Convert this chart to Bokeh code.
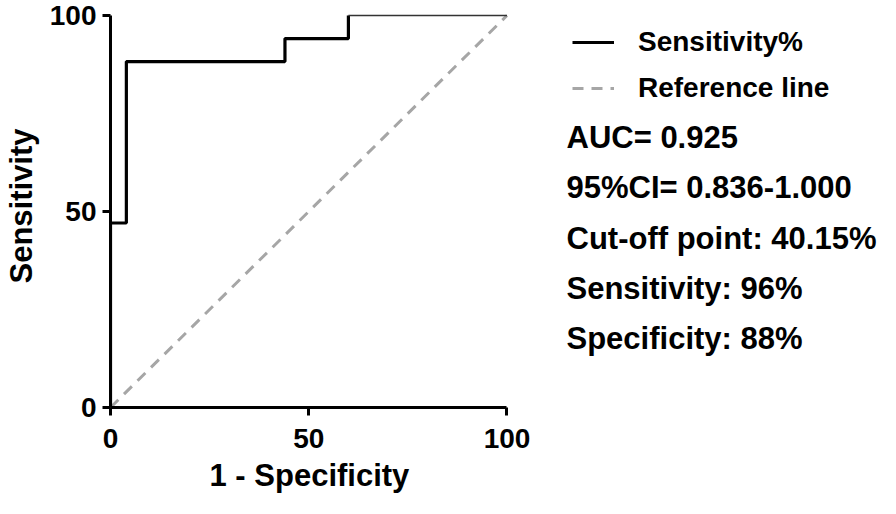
from bokeh.plotting import figure
from bokeh.models import Range1d, Legend, LegendItem, Label, FixedTicker, Title
from bokeh.embed import file_html
from bokeh.resources import INLINE

# ROC curve data (1 - specificity %, sensitivity %)
fpr = [0, 0, 4, 4, 44, 44, 60, 60, 100]
sens = [0, 47.06, 47.06, 88.24, 88.24, 94.12, 94.12, 100, 100]
ref_x = [0, 100]
ref_y = [0, 100]
ticks = [0, 50, 100]
x_title = "1 - Specificity"
y_title = "Sensitivity"
legend_labels = ["Sensitivity%", "Reference line"]
stats = ["AUC= 0.925", "95%CI= 0.836-1.000", "Cut-off point: 40.15%",
         "Sensitivity: 96%", "Specificity: 88%"]

FONT = "Liberation Sans"
W, H = 880, 498

p = figure(width=W, height=H, output_backend="svg", toolbar_location=None,
           x_range=Range1d(0, 194.2), y_range=Range1d(0, 102.8),
           min_border_left=107, min_border_right=0, min_border_top=4,
           min_border_bottom=91)
p.outline_line_color = None
p.xgrid.visible = False
p.ygrid.visible = False

r_ref = p.line(ref_x, ref_y, line_color="#a6a6a6", line_width=3, line_dash="11 8")
r_roc = p.line(fpr[:-1], sens[:-1], line_color="black", line_width=3.2)
p.line(fpr[-2:], sens[-2:], line_color="#333333", line_width=1.6)

for ax in (p.xaxis[0], p.yaxis[0]):
    ax.ticker = FixedTicker(ticks=ticks)
    ax.bounds = (0, 100)
    ax.axis_line_width = 3
    ax.axis_line_color = "black"
    ax.major_tick_line_width = 3
    ax.major_tick_line_color = "black"
    ax.major_tick_out = 8
    ax.major_tick_in = 0
    ax.minor_tick_line_color = None
    ax.major_label_text_font = FONT
    ax.major_label_text_font_size = "28px"
    ax.major_label_text_font_style = "bold"
    ax.major_label_text_color = "black"
    ax.axis_label_text_font = FONT
    ax.axis_label_text_font_size = "31px"
    ax.axis_label_text_font_style = "bold"
    ax.axis_label_text_color = "black"

p.yaxis.axis_label = y_title
p.xaxis.major_label_standoff = 13
p.yaxis.major_label_standoff = 6
p.yaxis.axis_label_standoff = 8

p.add_layout(Title(text=x_title, align="left", offset=99, standoff=10,
                   text_font=FONT, text_font_size="31px", text_font_style="bold",
                   text_color="black"), "below")

leg = Legend(items=[LegendItem(label=legend_labels[0], renderers=[r_roc]),
                    LegendItem(label=legend_labels[1], renderers=[r_ref])],
             location=(462, 302), orientation="vertical",
             glyph_width=42, glyph_height=34, label_height=34,
             label_standoff=24, spacing=12, padding=0, margin=0,
             border_line_color=None, background_fill_alpha=0,
             label_text_font=FONT, label_text_font_size="28px",
             label_text_font_style="bold", label_text_color="black")
p.add_layout(leg)

base_y = 270
for i, s in enumerate(stats):
    p.add_layout(Label(x=456, y=base_y - i * 50.3, x_units="screen", y_units="screen",
                       text=s, text_font=FONT, text_font_size="31px",
                       text_font_style="bold", text_color="black",
                       text_baseline="middle", text_align="left"))

open("out.html", "w").write(file_html(p, INLINE))
